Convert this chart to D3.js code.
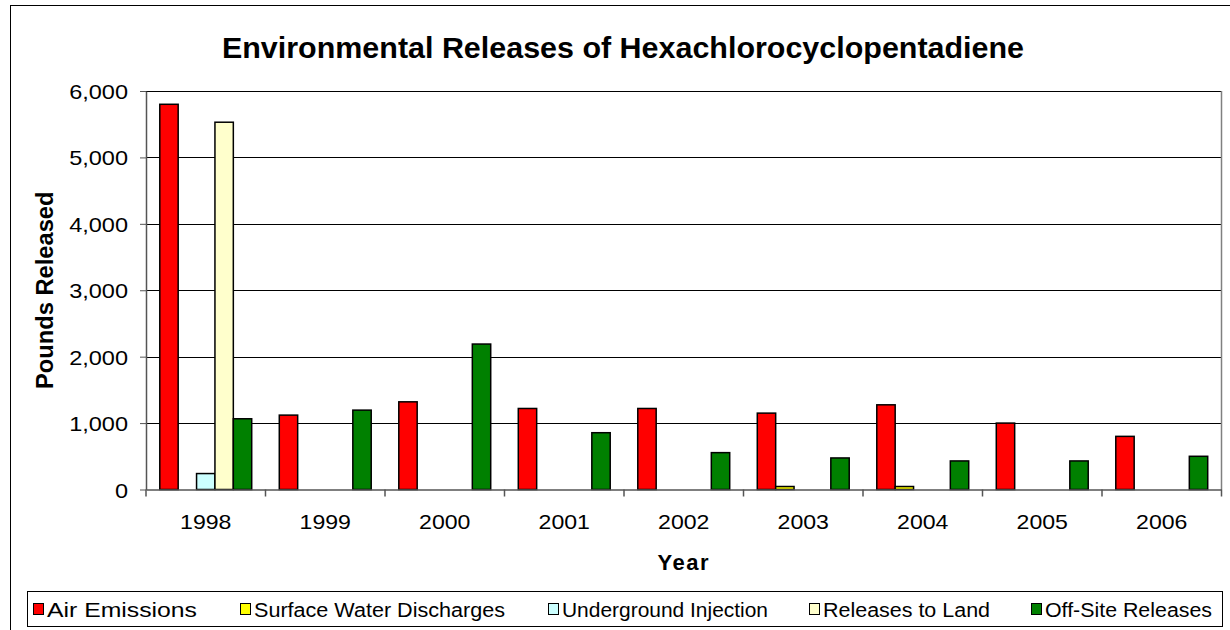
<!DOCTYPE html>
<html>
<head>
<meta charset="utf-8">
<script src="https://cdn.jsdelivr.net/npm/d3@7/dist/d3.min.js"></script>
<style>
  html, body { margin: 0; padding: 0; background: #fff; }
  svg { display: block; font-family: "Liberation Sans", Arial, sans-serif; }
</style>
</head>
<body>
<svg id="chart" width="1230" height="630"></svg>
<script>
// Pounds released per year, one array per release type
const years = ["1998", "1999", "2000", "2001", "2002", "2003", "2004", "2005", "2006"];
const seriesNames = ["Air Emissions", "Surface Water Discharges", "Underground Injection", "Releases to Land", "Off-Site Releases"];
const seriesColors = ["#ff0000", "#ffff00", "#ccffff", "#ffffcc", "#008000"];
const airEmissions      = [5800, 1120, 1320, 1220, 1220, 1150, 1275, 1000, 800];
const surfaceWater      = [0, 0, 0, 0, 0, 45, 45, 0, 0];
const undergroundInj    = [240, 0, 0, 0, 0, 0, 0, 0, 0];
const releasesToLand    = [5530, 0, 0, 0, 0, 0, 0, 0, 0];
const offSiteReleases   = [1065, 1195, 2190, 855, 555, 475, 430, 430, 500];
const yTicks = [0, 1000, 2000, 3000, 4000, 5000, 6000];

const seriesValues = [airEmissions, surfaceWater, undergroundInj, releasesToLand, offSiteReleases];

const svg = d3.select("#chart");

// widen glyphs of a text selection by a fixed factor
function widen(sel, factor) {
  sel.each(function () {
    const w = this.getComputedTextLength();
    d3.select(this).attr("textLength", w * factor).attr("lengthAdjust", "spacingAndGlyphs");
  });
}

// outer chart frame
svg.append("rect")
  .attr("x", 10.5).attr("y", 5.5)
  .attr("width", 1230).attr("height", 640)
  .attr("fill", "#fff").attr("stroke", "#000").attr("stroke-width", 1);

const plot = { left: 146, right: 1221.5, top: 91, bottom: 489.5 };

const x0 = d3.scaleBand().domain(years).range([plot.left, plot.right]).padding(0);
const bw = x0.bandwidth();
const edge = bw * 0.75 / 6.5;   // gap width of 150% split on both sides
const x1 = d3.scaleBand().domain(seriesNames).range([edge, bw - edge]).padding(0);
const y = d3.scaleLinear().domain([0, 6000]).range([plot.bottom, plot.top]);

// gridlines
svg.append("g")
  .selectAll("line")
  .data(yTicks.filter(t => t > 0))
  .join("line")
  .attr("x1", plot.left).attr("x2", plot.right)
  .attr("y1", d => Math.round(y(d)) + 0.5).attr("y2", d => Math.round(y(d)) + 0.5)
  .attr("stroke", "#000").attr("stroke-width", 1);

// plot area right edge
svg.append("line")
  .attr("x1", plot.right).attr("x2", plot.right)
  .attr("y1", plot.top).attr("y2", plot.bottom)
  .attr("stroke", "#808080").attr("stroke-width", 1.5);

// bars
const barData = [];
years.forEach((yr, i) => {
  seriesNames.forEach((s, j) => {
    const v = seriesValues[j][i];
    if (v > 0) barData.push({ year: yr, series: s, value: v, color: seriesColors[j] });
  });
});

svg.append("g")
  .selectAll("rect")
  .data(barData)
  .join("rect")
  .attr("x", d => x0(d.year) + x1(d.series))
  .attr("y", d => y(d.value))
  .attr("width", x1.bandwidth())
  .attr("height", d => y(0) - y(d.value))
  .attr("fill", d => d.color)
  .attr("stroke", "#000")
  .attr("stroke-width", 1.5);

// y axis
const yAxis = d3.axisLeft(y)
  .tickValues(yTicks)
  .tickFormat(d3.format(","))
  .tickSizeInner(6).tickSizeOuter(0).tickPadding(12);
const gy = svg.append("g").attr("transform", `translate(${plot.left},0)`).call(yAxis);
gy.select(".domain").attr("stroke", "#555").attr("stroke-width", 1.5);
gy.selectAll(".tick line").attr("stroke", "#555");
gy.selectAll("text").attr("font-size", 21).attr("fill", "#000")
  .attr("font-family", "Liberation Sans, Arial, sans-serif")
  .attr("dy", "0.36em")
  .call(widen, 1.12);

// x axis
const xAxis = d3.axisBottom(x0).tickSize(0).tickPadding(25);
const gx = svg.append("g").attr("transform", `translate(0,${plot.bottom})`).call(xAxis);
gx.select(".domain").attr("stroke", "#555").attr("stroke-width", 1.5);
gx.selectAll("text").attr("font-size", 21).attr("fill", "#000")
  .attr("font-family", "Liberation Sans, Arial, sans-serif")
  .call(widen, 1.1);

// category separator ticks
svg.append("g")
  .selectAll("line")
  .data(years.concat(["end"]))
  .join("line")
  .attr("x1", (d, i) => i < years.length ? x0(d) : plot.right)
  .attr("x2", (d, i) => i < years.length ? x0(d) : plot.right)
  .attr("y1", plot.bottom).attr("y2", plot.bottom + 7)
  .attr("stroke", "#555").attr("stroke-width", 1.5);

// titles
svg.append("text")
  .attr("x", 623).attr("y", 58)
  .attr("text-anchor", "middle")
  .attr("font-size", 29).attr("font-weight", "bold")
  .text("Environmental Releases of Hexachlorocyclopentadiene")
  .call(widen, 1.05);

svg.append("text")
  .attr("transform", `translate(53,${(plot.top + plot.bottom) / 2}) rotate(-90)`)
  .attr("text-anchor", "middle")
  .attr("font-size", 23).attr("font-weight", "bold")
  .text("Pounds Released")
  .call(widen, 1.03);

svg.append("text")
  .attr("x", (plot.left + plot.right) / 2).attr("y", 570)
  .attr("text-anchor", "middle")
  .attr("font-size", 22).attr("font-weight", "bold")
  .attr("letter-spacing", 1.5)
  .text("Year");

// legend
const legendBox = { x: 27.5, y: 591.5, w: 1195, h: 35 };
svg.append("rect")
  .attr("x", legendBox.x).attr("y", legendBox.y)
  .attr("width", legendBox.w).attr("height", legendBox.h)
  .attr("fill", "#fff").attr("stroke", "#000").attr("stroke-width", 1);

const legendX = [33, 240, 548, 809, 1031];
const legendTextWidth = [150, 251, 206, 167, 167];
const lg = svg.append("g")
  .selectAll("g")
  .data(seriesNames)
  .join("g")
  .attr("transform", (d, i) => `translate(${legendX[i]},${legendBox.y + legendBox.h / 2})`);
lg.append("rect")
  .attr("x", 0.5).attr("y", -5.5)
  .attr("width", 10).attr("height", 11)
  .attr("fill", (d, i) => seriesColors[i])
  .attr("stroke", "#000").attr("stroke-width", 1);
lg.append("text")
  .attr("x", 14).attr("y", 7.5)
  .attr("font-size", 20)
  .attr("textLength", (d, i) => legendTextWidth[i])
  .attr("lengthAdjust", "spacingAndGlyphs")
  .text(d => d);
</script>
</body>
</html>
